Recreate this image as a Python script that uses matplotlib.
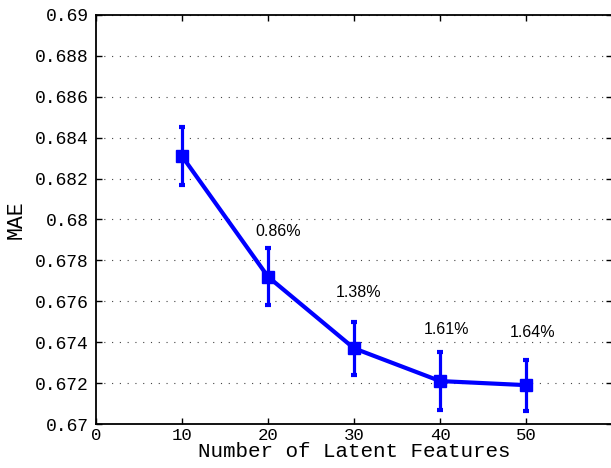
import numpy as np
import matplotlib.pyplot as plt

features = [10, 20, 30, 40, 50]
mae = [0.6831, 0.6772, 0.6737, 0.6721, 0.6719]
mae_err = [0.0014, 0.0014, 0.0013, 0.0014, 0.00125]

gain_x = [21.2, 30.5, 40.7, 50.8]
gain_y = [0.6794, 0.67644, 0.67463, 0.67449]
gain_txt = ['0.86%', '1.38%', '1.61%', '1.64%']

mono = 'Liberation Mono'

fig = plt.figure(figsize=(6.11, 4.68), dpi=100)
ax = fig.add_axes([0.157, 0.094, 0.845, 0.874])

ax.errorbar(features, mae, yerr=mae_err, color='#0000ff', lw=3, marker='s',
            markersize=9, elinewidth=2.3, capsize=2.5, capthick=3)

for x, y, t in zip(gain_x, gain_y, gain_txt):
    ax.text(x, y, t, ha='center', va='center', fontsize=11.5,
            family='Liberation Sans')

ax.set_xlim(0, 60)
ax.set_ylim(0.67, 0.69)
ax.set_xticks([0, 10, 20, 30, 40, 50])
ax.set_yticks(np.arange(0.67, 0.6901, 0.002))
ax.set_yticklabels(['0.67', '0.672', '0.674', '0.676', '0.678', '0.68',
                    '0.682', '0.684', '0.686', '0.688', '0.69'])
ax.tick_params(direction='in', top=True, right=True, length=4, width=1,
               labelsize=13)
ax.tick_params(axis='x', pad=3, labelsize=12.5)
ax.tick_params(axis='y', pad=5)
for lbl in ax.get_xticklabels() + ax.get_yticklabels():
    lbl.set_family(mono)

ax.yaxis.grid(True, color='#444444', lw=0.8, linestyle=(0, (1, 6)))
ax.set_axisbelow(True)
for s in ax.spines.values():
    s.set_linewidth(1.3)

ax.set_xlabel('Number of Latent Features', family=mono, fontsize=15, labelpad=-0.5)
ax.set_ylabel('MAE', family=mono, fontsize=15.5, labelpad=6)

fig.savefig('out.png', dpi=100)
